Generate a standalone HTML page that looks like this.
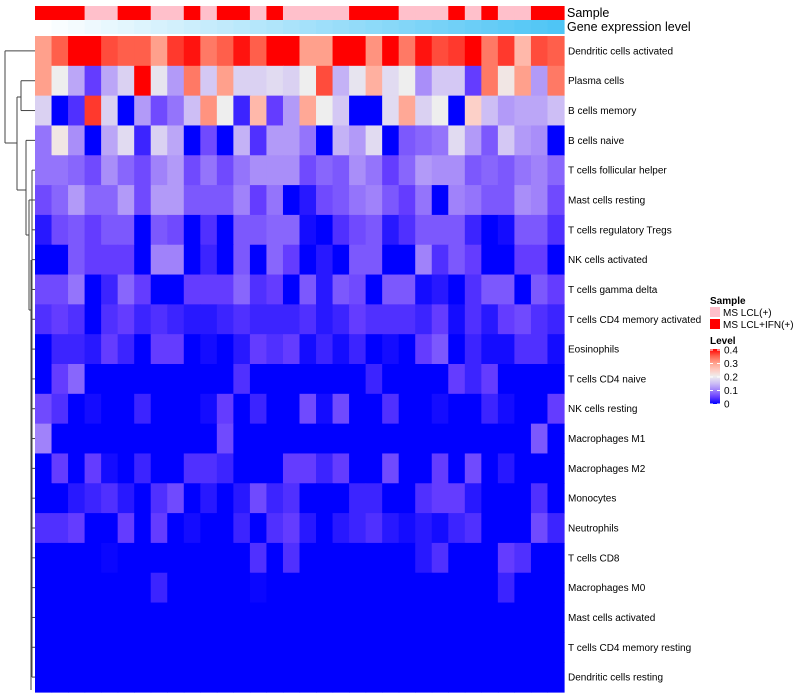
<!DOCTYPE html>
<html><head><meta charset="utf-8"><style>
body{margin:0;background:#fff;font-family:"Liberation Sans",sans-serif}
svg{display:block}
</style></head><body>
<svg id="chart" width="800" height="700" xmlns="http://www.w3.org/2000/svg">
<g id="dendro" stroke="#444" stroke-width="1" fill="none"></g>
<g id="annot"></g>
<g id="cells"></g>
<g id="labels" font-size="10" fill="#000"></g>
<text x="567" y="17" font-size="12.5">Sample</text>
<text x="567" y="31" font-size="12.5">Gene expression level</text>
<g font-size="10">
<text x="710" y="304" font-weight="bold">Sample</text>
<rect x="710" y="307" width="10" height="10" fill="#FFC0CB"/>
<text x="723" y="316">MS LCL(+)</text>
<rect x="710" y="319" width="10" height="10" fill="#FF0000"/>
<text x="723" y="328">MS LCL+IFN(+)</text>
<text x="710" y="344" font-weight="bold">Level</text>
<defs><linearGradient id="lg" x1="0" y1="1" x2="0" y2="0">
<stop offset="0" stop-color="rgb(0,0,255)"/><stop offset="0.125" stop-color="rgb(100,60,255)"/><stop offset="0.25" stop-color="rgb(160,130,250)"/><stop offset="0.375" stop-color="rgb(205,190,245)"/><stop offset="0.5" stop-color="rgb(238,238,238)"/><stop offset="0.625" stop-color="rgb(255,200,190)"/><stop offset="0.75" stop-color="rgb(255,160,140)"/><stop offset="0.875" stop-color="rgb(255,95,75)"/><stop offset="1" stop-color="rgb(255,0,0)"/></linearGradient></defs>
<rect x="710" y="349" width="10" height="55" fill="url(#lg)"/>
<g id="ticks"></g>
</g>
</svg>
<script>
const rowNames=["Dendritic cells activated","Plasma cells","B cells memory","B cells naive","T cells follicular helper","Mast cells resting","T cells regulatory  Tregs","NK cells activated","T cells gamma delta","T cells CD4 memory activated","Eosinophils","T cells CD4 naive","NK cells resting","Macrophages M1","Macrophages M2","Monocytes","Neutrophils","T cells CD8","Macrophages M0","Mast cells activated","T cells CD4 memory resting","Dendritic cells resting"];
const sampleGroups=[1,1,1,0,0,1,1,0,0,1,0,1,1,0,1,0,0,0,0,1,1,1,0,0,0,1,0,1,0,0,1,1];
const legendTicks=[0,0.1,0.2,0.3,0.4];
const values=[
[.3,.35,.4,.4,.36,.35,.35,.3,.37,.39,.33,.35,.39,.35,.4,.4,.3,.3,.4,.4,.31,.4,.33,.39,.36,.37,.4,.33,.37,.27,.36,.35],
[.3,.2,.13,.05,.13,.17,.4,.19,.12,.33,.16,.3,.17,.17,.18,.17,.2,.36,.14,.19,.28,.18,.2,.11,.16,.16,.05,.33,.21,.3,.12,.33],
[.17,0,.04,.37,.17,0,.12,.06,.09,.15,.31,.2,.03,.27,.05,.12,.29,.2,.16,0,0,.18,.29,.17,.2,0,.24,.15,.12,.13,.13,.15],
[.09,.21,.11,0,.13,.18,.03,.17,.13,0,.06,0,.14,.04,.12,.12,.09,0,.14,.12,.18,0,.07,.08,.09,.18,.12,.07,.16,.12,.11,0],
[.09,.09,.08,.06,.11,.08,.06,.1,.12,.06,.09,.06,.09,.11,.11,.11,.06,.08,.07,.11,.09,.05,.08,.12,.11,.11,.07,.08,.07,.09,.1,.08],
[.06,.08,.12,.08,.08,.12,.06,.12,.12,.07,.07,.07,.1,.05,.09,0,.02,.06,.07,.09,.1,.07,.05,.09,0,.1,.09,.07,.07,.11,.1,.06],
[.02,.06,.07,.05,.07,.07,0,.07,.06,0,.04,0,.07,.07,.08,.08,.01,0,.04,.06,.07,.02,.04,.07,.07,.07,.03,0,.01,.07,.07,.04],
[0,0,.07,.05,.05,.05,0,.1,.1,0,.03,0,.07,0,.08,.05,0,.02,0,.07,.07,0,0,.1,.04,.07,.05,0,0,.05,.05,0],
[.06,.06,.09,0,.03,.08,.05,0,0,.05,.05,.05,.08,.04,.05,0,.07,.02,.07,.06,0,.07,.07,.01,.02,0,.04,.07,.07,0,.07,.05],
[.04,.05,.04,0,.04,.05,.03,.04,.03,.02,.02,.03,.04,.03,.03,.03,.04,.02,.03,.05,.04,.04,.04,.03,.05,.01,.04,.02,.05,.06,.04,.03],
[0,.03,.03,.02,.05,.03,0,.05,.05,0,.01,0,.02,.05,.04,.05,.01,.03,.01,.03,0,.01,0,.05,.07,0,.03,.01,.01,.04,.04,.01],
[0,.05,.08,0,0,0,0,0,0,0,0,0,.04,0,0,0,0,0,0,0,.03,0,0,0,0,.05,.03,.05,0,0,0,0],
[.06,.04,0,.01,0,0,.03,0,0,0,.01,.05,0,.03,0,0,.06,.01,.06,0,0,.04,0,0,.01,0,0,.03,.01,0,0,.05],
[.1,0,0,0,0,0,0,0,0,0,0,.06,0,0,0,0,0,0,0,0,0,0,0,0,0,0,0,0,0,0,.07,0],
[0,.05,0,.05,.01,0,.03,0,0,.04,.04,.03,0,0,0,.05,.05,.03,.05,0,0,.06,0,0,.05,0,.06,0,.02,0,0,0],
[0,0,.02,.03,.04,.02,0,.04,.06,0,.02,0,.02,.06,.03,.04,0,0,0,.03,.03,0,0,.04,.05,.05,.02,0,0,0,.04,0],
[.04,.04,.05,0,0,.05,0,.05,0,.01,0,0,.03,0,.04,.05,.02,0,.02,.03,.04,.02,.01,.02,.01,.03,.04,0,0,0,.06,.03],
[0,0,0,0,.005,0,0,0,0,0,0,0,0,.04,0,.04,0,0,0,0,0,0,0,.02,.04,0,0,0,.05,.04,0,0],
[0,0,0,0,0,0,0,.03,0,0,0,0,0,.005,0,0,0,0,0,0,0,0,0,0,0,0,0,0,.03,0,0,0],
new Array(32).fill(0),new Array(32).fill(0),new Array(32).fill(0)
];
const NS="http://www.w3.org/2000/svg";
const X0=35,X1=564,Y0=36,Y1=692;
const nC=values[0].length,nR=values.length;
const cw=(X1-X0)/nC,rh=(Y1-Y0)/nR;
const xPos=c=>X0+c*cw, yPos=r=>Y0+r*rh;
function lerp(a,b,t){return a.map((v,i)=>Math.round(v+(b[i]-v)*t));}
const stops=[[0,[0,0,255]],[0.05,[100,60,255]],[0.1,[160,130,250]],[0.15,[205,190,245]],[0.2,[238,238,238]],[0.25,[255,200,190]],[0.3,[255,160,140]],[0.35,[255,95,75]],[0.4,[255,0,0]]];
function color(v){v=Math.max(0,Math.min(0.4,v));
 for(let i=1;i<stops.length;i++){if(v<=stops[i][0]){const t=(v-stops[i-1][0])/(stops[i][0]-stops[i-1][0]);return `rgb(${lerp(stops[i-1][1],stops[i][1],t)})`;}}
 return 'rgb(255,0,0)';}
function mk(tag,attrs,parent){const e=document.createElementNS(NS,tag);for(const k in attrs)e.setAttribute(k,attrs[k]);parent.appendChild(e);return e;}
const cells=document.getElementById('cells');
values.forEach((row,r)=>row.forEach((v,c)=>{
 const e=mk('rect',{x:xPos(c),y:yPos(r),width:cw+0.6,height:rh+0.6,fill:color(v)},cells);
 
 
}));
const annot=document.getElementById('annot');
sampleGroups.forEach((g,c)=>{
 const e=mk('rect',{x:xPos(c),y:6,width:cw+0.6,height:14,fill:g?'#FF0000':'#FFC0CB'},annot);
 
 
 const t=c/(nC-1);
 const e2=mk('rect',{x:xPos(c),y:20,width:cw+0.6,height:14,fill:`rgb(${lerp([255,255,255],[79,197,245],t)})`},annot);
 
 
});
const labels=document.getElementById('labels');
rowNames.forEach((n,r)=>{
 const t=mk('text',{x:568,y:yPos(r)+rh/2+3.5},labels);t.textContent=n;
 
 
});
const ticks=document.getElementById('ticks');
legendTicks.forEach(v=>{
 const y=404-v/0.4*54;
 const t=mk('text',{x:724,y:y+3.5,'font-size':'10'},ticks);t.textContent=v;
 
 
 mk('line',{x1:710,x2:713,y1:y,y2:y,stroke:'#fff'},ticks);
 mk('line',{x1:717,x2:720,y1:y,y2:y,stroke:'#fff'},ticks);
});
const d=document.getElementById('dendro');
const rc=r=>yPos(r)+rh/2;
function L(x1,y1,x2,y2){mk('line',{x1,y1,x2,y2},d);}
L(5,rc(0),35,rc(0));L(5,rc(0),5,143);L(5,143,17,143);
L(17,97,17,190);L(17,97,21,97);L(21,rc(1),21,rc(2));L(21,rc(1),35,rc(1));L(21,rc(2),35,rc(2));
L(17,190,26,190);L(26,rc(3),26,235);L(26,rc(3),35,rc(3));L(26,235,29,235);
L(29,200,29,310);L(29,200,33,200);L(29,310,31,310);L(31,260,31,690);
for(let r=4;r<nR;r++){L(32,rc(r),35,rc(r));}
L(32,rc(4),32,rc(nR-1));
</script>
</body></html>
